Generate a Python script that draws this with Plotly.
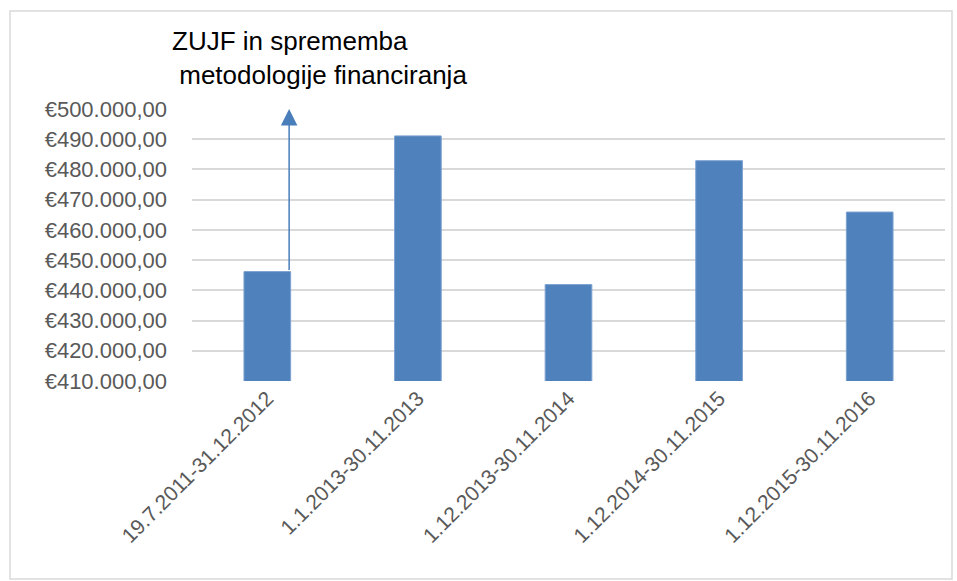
import plotly.graph_objects as go

categories = ["19.7.2011-31.12.2012", "1.1.2013-30.11.2013", "1.12.2013-30.11.2014",
              "1.12.2014-30.11.2015", "1.12.2015-30.11.2016"]
values = [446200, 491100, 441900, 482900, 465900]
y_min, y_max, y_step = 410000, 500000, 10000
note_text = "ZUJF in sprememba<br> metodologije financiranja"

bar_color = "#4f81bd"
fig = go.Figure(go.Bar(
    x=list(range(len(categories))), y=values,
    width=0.31,
    marker=dict(color=bar_color, line=dict(color="#7da2d1", width=1)),
))

fig.update_layout(
    width=957, height=581,
    margin=dict(l=192, r=12, t=109, b=200),
    paper_bgcolor="white", plot_bgcolor="white",
    separators=",.",
    showlegend=False,
    font=dict(family="Liberation Sans, Arial, sans-serif", color="#595959", size=22),
)
fig.update_xaxes(
    tickmode="array", tickvals=list(range(len(categories))), ticktext=categories,
    range=[-0.5, len(categories) - 0.5],
    tickangle=-45, showgrid=False, showline=False, ticks="",
    tickfont=dict(size=21, color="#595959"),
)
fig.update_yaxes(
    range=[y_min, y_max], dtick=y_step, tick0=y_min,
    tickformat=",.2f", tickprefix="€",
    showgrid=True, gridcolor="#d9d9d9", gridwidth=1.5,
    zeroline=False, showline=False, ticks="", ticklen=0,
    ticklabelstandoff=24,
    tickfont=dict(size=22, color="#595959"),
)

# arrow from bar 1 top up to axis max
fig.add_annotation(
    x=0.145, y=y_max, ax=0.145, ay=values[0],
    xref="x", yref="y", axref="x", ayref="y",
    text="", showarrow=True, arrowhead=2, arrowsize=2.2, arrowwidth=1.5,
    arrowcolor="#4a7ebb",
)
fig.add_annotation(
    xref="paper", yref="paper", x=(170 - 192) / 753, y=(381 - 24) / 272,
    xanchor="left", yanchor="top", align="left", showarrow=False,
    text=note_text, font=dict(size=26, color="black", family="Liberation Sans, Arial, sans-serif"),
)
# outer chart border
fig.add_shape(type="rect", xref="paper", yref="paper",
              x0=(10 - 192) / 753, x1=(952 - 192) / 753,
              y0=(381 - 579) / 272, y1=(381 - 11) / 272,
              line=dict(color="#d9d9d9", width=1.5), fillcolor="rgba(0,0,0,0)", layer="below")

fig.write_html("out.html", config={"displayModeBar": False},
               post_script="document.body.style.margin='0';document.body.style.overflow='hidden';")
